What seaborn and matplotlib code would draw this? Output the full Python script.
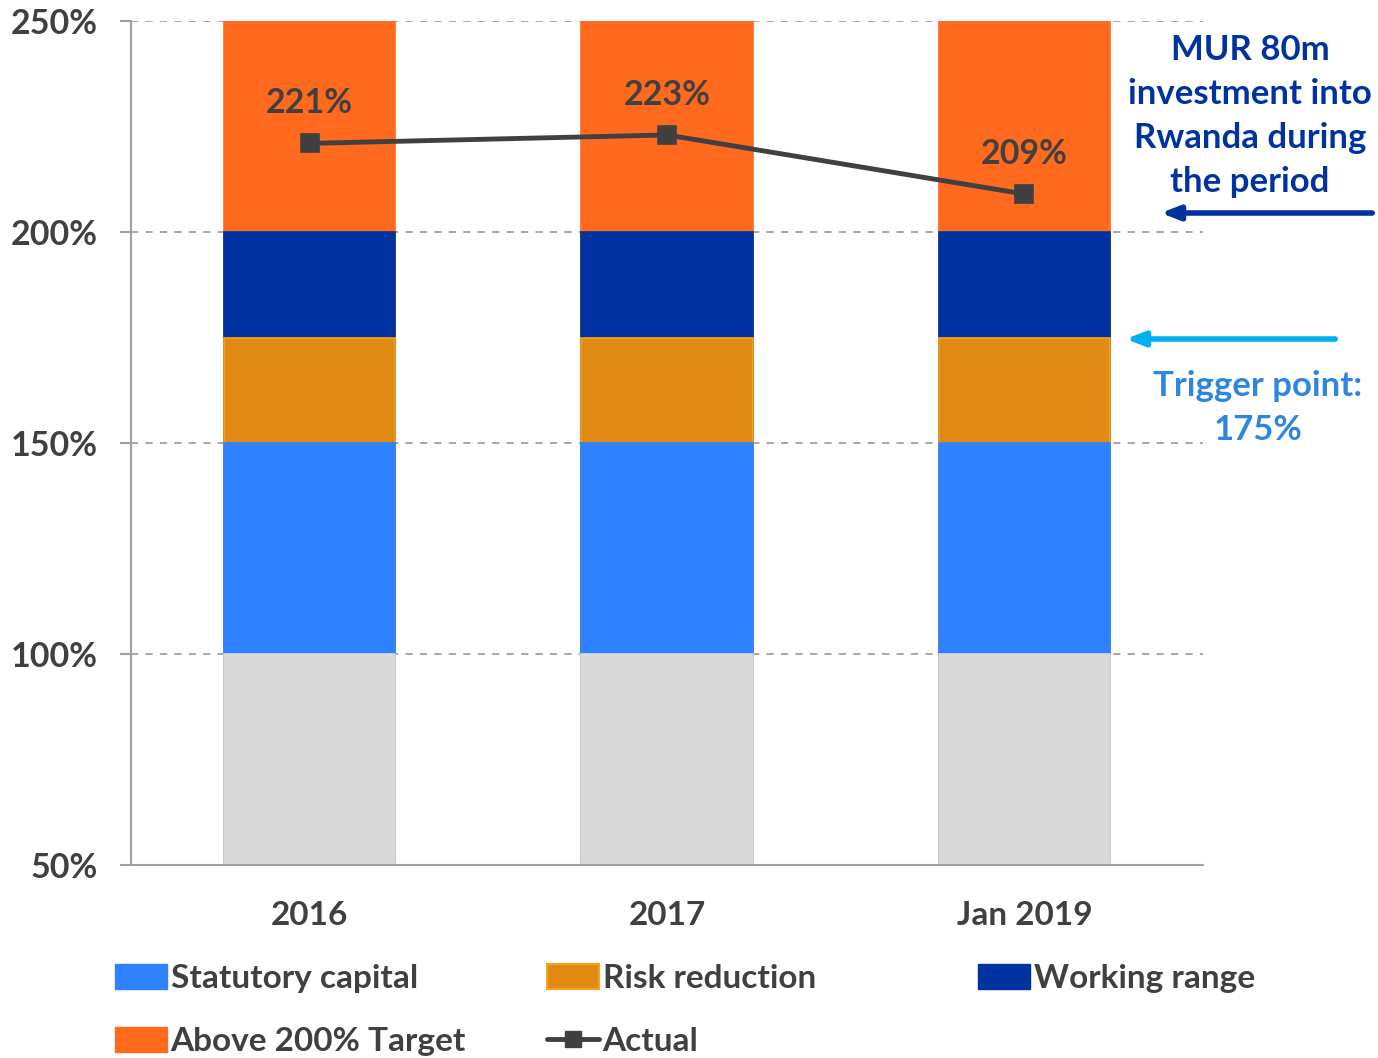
import numpy as np
import pandas as pd
import matplotlib.pyplot as plt
import seaborn as sns
from matplotlib.patches import Patch
from matplotlib.lines import Line2D

# data
periods = ['2016', '2017', 'Jan 2019']
base = [100, 100, 100]            # grey filler below 100%
statutory = [50, 50, 50]          # 100% -> 150%
risk_reduction = [25, 25, 25]     # 150% -> 175%
working_range = [25, 25, 25]      # 175% -> 200%
above_target = [50, 50, 50]       # 200% -> 250%
actual = [221, 223, 209]
actual_labels = ['221%', '223%', '209%']

sns.set_theme(style='white')
plt.rcParams['font.family'] = ['Lato', 'DejaVu Sans']
plt.rcParams['font.weight'] = 'bold'

fig = plt.figure(figsize=(13.78, 10.58), dpi=100)
ax = fig.add_axes([131 / 1378, 1 - 865 / 1058, (1203 - 131) / 1378, (865 - 21) / 1058])

# stacked bars: draw cumulative totals from the top layer down
layers = [
    ('Above 200% Target', above_target, '#FF6A1F', '#FF6A1F'),
    ('Working range', working_range, '#0033A0', '#0033A0'),
    ('Risk reduction', risk_reduction, '#E08A14', '#F9A21B'),
    ('Statutory capital', statutory, '#2E82FF', '#2E82FF'),
    ('base', base, '#D9D9D9', '#D9D9D9'),
]
tops = np.cumsum([base, statutory, risk_reduction, working_range, above_target], axis=0)[::-1]
for (name, vals, col, edge), top in zip(layers, tops):
    df = pd.DataFrame({'period': periods, 'value': top})
    sns.barplot(data=df, x='period', y='value', color=col, edgecolor=edge,
                linewidth=1.2, width=0.48, saturation=1, ax=ax, zorder=2)

sns.pointplot(x=periods, y=actual, color='#404040', markers='s', markersize=11,
              linewidth=3.5, ax=ax, zorder=4)
for i, (v, lab) in enumerate(zip(actual, actual_labels)):
    ax.annotate(lab, (i, v), xytext=(0, 29), textcoords='offset points',
                ha='center', va='center', fontsize=24.5, fontweight='bold',
                color='#404040', zorder=5)

ax.set_ylim(50, 250)
ax.set_xlim(-0.5, 2.5)
ax.set_yticks([50, 100, 150, 200, 250])
ax.set_yticklabels(['50%', '100%', '150%', '200%', '250%'])
ax.set_xlabel('')
ax.set_ylabel('')
for y in [100, 150, 200, 250]:
    ax.axhline(y, color='#A0A0A0', linestyle=(0, (4, 4)), linewidth=1.3, zorder=1)

for s in ['top', 'right']:
    ax.spines[s].set_visible(False)
for s in ['left', 'bottom']:
    ax.spines[s].set_color('#A0A0A0')
    ax.spines[s].set_linewidth(1.5)

ax.set_xticks([-0.5, 0.5, 1.5, 2.5], minor=True)
ax.tick_params(axis='x', which='major', length=0, pad=26, labelsize=24, labelcolor='#404040')
ax.tick_params(axis='x', which='minor', length=8, width=1.5, color='#A0A0A0', direction='out')
ax.tick_params(axis='y', length=8, width=1.5, color='#A0A0A0', direction='out', pad=16,
               labelsize=24.5, labelcolor='#404040', left=True)
for t in ax.get_xticklabels() + ax.get_yticklabels():
    t.set_fontweight('bold')

# right-hand notes
fig.text(1250 / 1378, 1 - 116 / 1058, 'MUR 80m\ninvestment into\nRwanda during\nthe period',
         ha='center', va='center', fontsize=25, fontweight='bold', color='#0033A0',
         linespacing=1.46)
fig.text(1258 / 1378, 1 - 408 / 1058, 'Trigger point:\n175%',
         ha='center', va='center', fontsize=25, fontweight='bold', color='#2E86DE',
         linespacing=1.46)
ax.annotate('', xy=(1158, 1058 - 213), xytext=(1375, 1058 - 213), xycoords='figure pixels',
            arrowprops=dict(arrowstyle='-|>,head_length=0.9,head_width=0.35',
                            color='#0033A0', lw=4), annotation_clip=False)
ax.annotate('', xy=(1123, 1058 - 339), xytext=(1338, 1058 - 339), xycoords='figure pixels',
            arrowprops=dict(arrowstyle='-|>,head_length=0.9,head_width=0.35',
                            color='#00B0F0', lw=4), annotation_clip=False)

# legend: one legend per column so columns sit at equal widths
h_stat = Patch(facecolor='#2E82FF', edgecolor='#2E82FF', label='Statutory capital')
h_above = Patch(facecolor='#FF6A1F', edgecolor='#FF6A1F', label='Above 200% Target')
h_risk = Patch(facecolor='#E08A14', edgecolor='#F9A21B', linewidth=1.5, label='Risk reduction')
h_act = Line2D([], [], color='#404040', marker='s', markersize=11, linewidth=3.5, label='Actual')
h_work = Patch(facecolor='#0033A0', edgecolor='#0033A0', label='Working range')
columns = [([h_stat, h_above], 115), ([h_risk, h_act], 547), ([h_work], 978)]
for handles, x0 in columns:
    leg = fig.legend(handles=handles, loc='upper left',
                     bbox_to_anchor=(x0 / 1378, 1 - 964 / 1058),
                     frameon=False, fontsize=24, handlelength=1.55, handleheight=0.75,
                     handletextpad=0.12, labelspacing=1.02, borderpad=0, borderaxespad=0)
    for t in leg.get_texts():
        t.set_color('#404040')
        t.set_fontweight('bold')

fig.savefig('out.png', dpi=100)
